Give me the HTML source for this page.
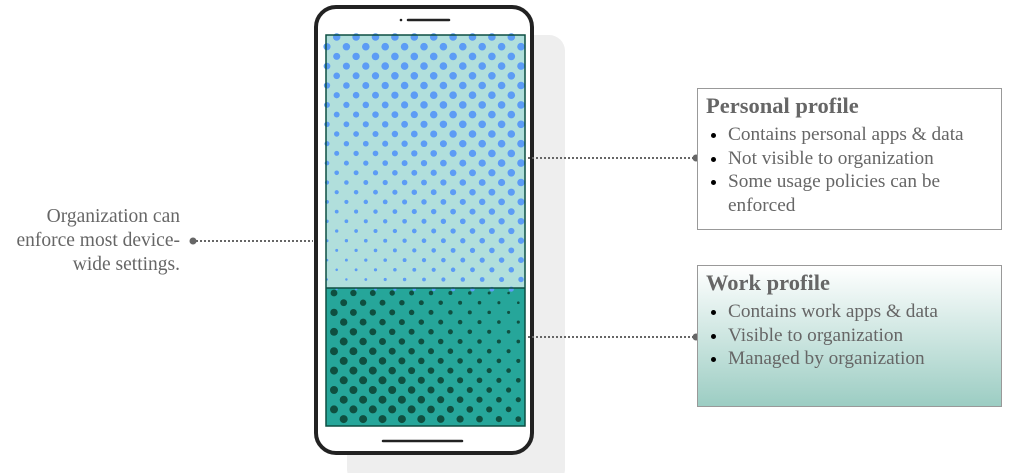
<!DOCTYPE html>
<html><head><meta charset="utf-8">
<style>
body{margin:0;width:1024px;height:473px;background:#fff;position:relative;overflow:hidden;font-family:"Liberation Serif",serif;color:#666}
.box{position:absolute;left:697px;width:305px;height:140px;border:1px solid #999;box-sizing:border-box}
.box h3{margin:0;position:absolute;left:8px;top:4px;font-size:22.5px;font-weight:bold;color:#666}
.box ul{margin:0;padding:0;position:absolute;left:30px;top:34px;font-size:19.3px;line-height:23.5px;width:245px}
.box li::marker{color:#000}
#lt{position:absolute;right:844px;top:205px;text-align:right;font-size:19.5px;line-height:24px;width:220px}
</style></head><body>
<svg width="1024" height="473" style="position:absolute;left:0;top:0">
<rect x="347" y="35" width="218" height="450" rx="16" fill="#eeeeee"/>
<rect x="316" y="7" width="216" height="446" rx="20" fill="#fff" stroke="#222" stroke-width="4"/>
<circle cx="401" cy="20" r="1.3" fill="#222"/>
<line x1="408" y1="20" x2="449" y2="20" stroke="#222" stroke-width="2.5" stroke-linecap="round"/>
<line x1="383" y1="441" x2="462" y2="441" stroke="#222" stroke-width="2.5" stroke-linecap="round"/>
<rect x="326" y="35" width="199" height="253" fill="#b1dfdc"/>
<rect x="326" y="288" width="199" height="138" fill="#26a69a"/>
<g id="pd" fill="#5c9cf5"></g>
<g id="wd" fill="#0f4f40"></g>
<rect x="326" y="35" width="199" height="391" fill="none" stroke="#0d4f42" stroke-width="1.5"/>
<line x1="326" y1="288" x2="525" y2="288" stroke="#0d4f42" stroke-width="1.5"/>
<g stroke="#666" stroke-width="2" stroke-dasharray="2,2">
<line x1="196" y1="241" x2="313" y2="241"/>
<line x1="528" y1="158" x2="694" y2="158"/>
<line x1="528" y1="337" x2="694" y2="337"/>
</g>
<g fill="#666"><circle cx="193" cy="241" r="3.5"/><circle cx="696" cy="158" r="3.5"/><circle cx="696" cy="337" r="3.5"/></g>
</svg>
<div id="lt">Organization can<br>enforce most device-<br>wide settings.</div>
<div class="box" style="top:88px;height:142px;background:#fff">
<h3>Personal profile</h3>
<ul><li>Contains personal apps &amp; data</li><li>Not visible to organization</li><li>Some usage policies can be enforced</li></ul></div>
<div class="box" style="top:265px;height:142px;background:linear-gradient(#ffffff,#9ccdc3)">
<h3>Work profile</h3>
<ul><li>Contains work apps &amp; data</li><li>Visible to organization</li><li>Managed by organization</li></ul></div>
<script>
var ns="http://www.w3.org/2000/svg";
function add(g,x,y,r){var c=document.createElementNS(ns,"circle");c.setAttribute("cx",x);c.setAttribute("cy",y);c.setAttribute("r",r);g.appendChild(c);}
var pd=document.getElementById("pd"),wd=document.getElementById("wd");
for(var j=0;j<27;j++){var y=37+j*9.7;var off=(j%2)?0:9.7;
 for(var i=0;i<11;i++){var x=327+off+i*19.4;if(x>524)continue;
  var fy=1-(y-37)/250, fx=(x-327)/198; var r=1+2.8*Math.min(1,fy*0.95+fx*0.6);
  add(pd,x,y,r);}}
for(var j=0;j<14;j++){var y=293+j*9.7;var off=(j%2)?9.7:0;
 for(var i=0;i<11;i++){var x=334+off+i*19.4;if(x>523)continue;
  var fy=(y-293)/130, fx=1-(x-334)/190; var r=1.1+2.9*Math.min(1,fy*0.6+fx*0.8);
  add(wd,x,y,r);}}
</script>
</body></html>
